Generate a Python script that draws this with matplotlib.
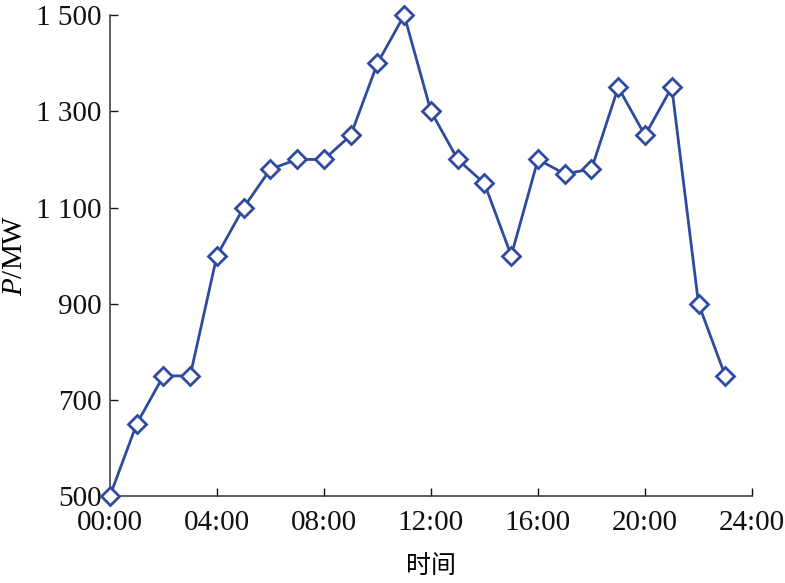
import numpy as np
import matplotlib.pyplot as plt

# 负荷数据 (每小时)
hours = list(range(24))
power = [500, 650, 750, 750, 1000, 1100, 1180, 1200, 1200, 1250, 1400, 1500,
         1300, 1200, 1150, 1000, 1200, 1170, 1180, 1350, 1250, 1350, 900, 750]

x_ticks = [0, 4, 8, 12, 16, 20, 24]
x_labels = ['00:00', '04:00', '08:00', '12:00', '16:00', '20:00', '24:00']
y_ticks = [500, 700, 900, 1100, 1300, 1500]
y_labels = ['500', '700', '900', '1 100', '1 300', '1 500']

plt.rcParams['font.family'] = ['Liberation Serif', 'Noto Sans CJK SC']
plt.rcParams['mathtext.fontset'] = 'custom'
plt.rcParams['mathtext.it'] = 'Liberation Serif:italic'
plt.rcParams['mathtext.rm'] = 'Liberation Serif'

fig = plt.figure(figsize=(7.85, 5.83), dpi=100)
ax = fig.add_axes([0.140, 0.149, 0.818, 0.825])

ax.plot(hours, power, color='#2f4b9f', linewidth=2.0, marker='D',
        markersize=9, markerfacecolor='white', markeredgecolor='#2f4b9f',
        markeredgewidth=2.0, clip_on=False, zorder=3)

ax.set_xlim(0, 24)
ax.set_ylim(500, 1500)
ax.set_xticks(x_ticks)
ax.set_xticklabels(x_labels)
ax.set_yticks(y_ticks)
ax.set_yticklabels(y_labels)
ax.tick_params(direction='in', length=6, width=1, labelsize=21, pad=6, colors='#111111')
ax.tick_params(axis='x', pad=10)

for s in ['top', 'right']:
    ax.spines[s].set_visible(False)
for s in ['left', 'bottom']:
    ax.spines[s].set_linewidth(1.1)
    ax.spines[s].set_color('#333333')

ax.set_xlabel('时间', fontsize=18, family=['Noto Sans CJK SC'], labelpad=12)
ax.set_ylabel('$P$/MW', fontsize=21, labelpad=6)

fig.savefig('out.png', dpi=100)
